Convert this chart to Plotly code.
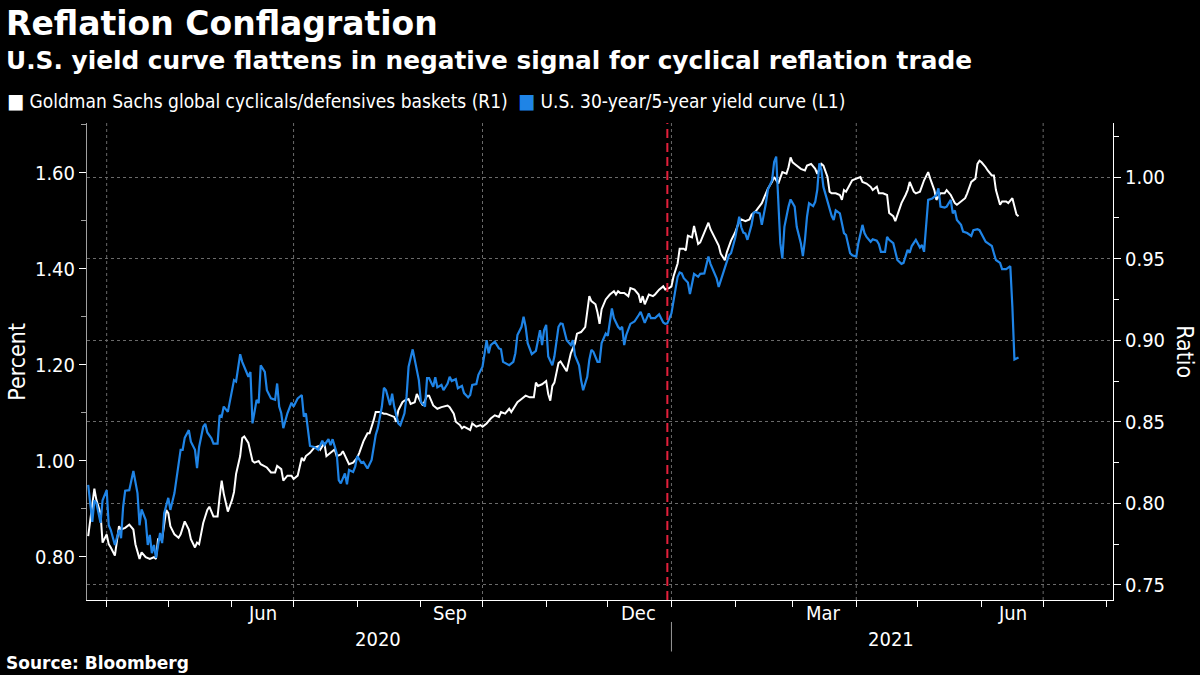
import plotly.graph_objects as go

# ---------------- text ----------------
title_text = "Reflation Conflagration"
subtitle_text = "U.S. yield curve flattens in negative signal for cyclical reflation trade"
gs_name = "Goldman Sachs global cyclicals/defensives baskets (R1)"
curve_name = "U.S. 30-year/5-year yield curve (L1)"
source_text = "Source: Bloomberg"
left_title = "Percent"
right_title = "Ratio"

# ---------------- data ----------------
# U.S. 30-year/5-year yield curve, percent (left axis)
curve_series = [
    ("2020-03-23", 0.950), ("2020-03-25", 0.873), ("2020-03-26", 0.918), ("2020-03-27", 0.912),
    ("2020-03-29", 0.871), ("2020-03-30", 0.918), ("2020-04-01", 0.939), ("2020-04-02", 0.866),
    ("2020-04-03", 0.856), ("2020-04-05", 0.825), ("2020-04-07", 0.856), ("2020-04-08", 0.839),
    ("2020-04-09", 0.904), ("2020-04-10", 0.938), ("2020-04-12", 0.939), ("2020-04-13", 0.960),
    ("2020-04-14", 0.979), ("2020-04-16", 0.933), ("2020-04-17", 0.866), ("2020-04-18", 0.899),
    ("2020-04-20", 0.877), ("2020-04-21", 0.825), ("2020-04-22", 0.846), ("2020-04-23", 0.808),
    ("2020-04-24", 0.825), ("2020-04-25", 0.798), ("2020-04-27", 0.850), ("2020-04-28", 0.829),
    ("2020-04-29", 0.891), ("2020-05-01", 0.923), ("2020-05-02", 0.898), ("2020-05-04", 0.933),
    ("2020-05-06", 0.995), ("2020-05-07", 1.023), ("2020-05-08", 1.023), ("2020-05-09", 1.048),
    ("2020-05-11", 1.064), ("2020-05-12", 1.040), ("2020-05-14", 1.023), ("2020-05-15", 0.985),
    ("2020-05-16", 1.029), ("2020-05-18", 1.071), ("2020-05-19", 1.077), ("2020-05-20", 1.059),
    ("2020-05-22", 1.047), ("2020-05-23", 1.036), ("2020-05-25", 1.036), ("2020-05-26", 1.095),
    ("2020-05-27", 1.092), ("2020-05-28", 1.113), ("2020-05-30", 1.102), ("2020-06-01", 1.147),
    ("2020-06-02", 1.168), ("2020-06-03", 1.165), ("2020-06-05", 1.222), ("2020-06-06", 1.206),
    ("2020-06-07", 1.196), ("2020-06-09", 1.175), ("2020-06-10", 1.185), ("2020-06-11", 1.078),
    ("2020-06-13", 1.127), ("2020-06-14", 1.120), ("2020-06-15", 1.199), ("2020-06-17", 1.185),
    ("2020-06-18", 1.147), ("2020-06-20", 1.130), ("2020-06-22", 1.127), ("2020-06-23", 1.161),
    ("2020-06-24", 1.113), ("2020-06-25", 1.099), ("2020-06-26", 1.068), ("2020-06-28", 1.099),
    ("2020-06-30", 1.121), ("2020-07-01", 1.113), ("2020-07-03", 1.130), ("2020-07-05", 1.137),
    ("2020-07-06", 1.092), ("2020-07-07", 1.099), ("2020-07-09", 1.031), ("2020-07-11", 1.029),
    ("2020-07-13", 1.023), ("2020-07-15", 1.042), ("2020-07-16", 1.033), ("2020-07-18", 1.045),
    ("2020-07-19", 1.033), ("2020-07-20", 1.045), ("2020-07-22", 1.016), ("2020-07-23", 0.960),
    ("2020-07-24", 0.953), ("2020-07-26", 0.974), ("2020-07-27", 0.951), ("2020-07-28", 0.981),
    ("2020-07-30", 0.977), ("2020-07-31", 0.988), ("2020-08-01", 1.010), ("2020-08-03", 0.996),
    ("2020-08-04", 0.998), ("2020-08-06", 0.984), ("2020-08-08", 1.002), ("2020-08-09", 1.029),
    ("2020-08-10", 1.054), ("2020-08-11", 1.068), ("2020-08-13", 1.113), ("2020-08-14", 1.152),
    ("2020-08-15", 1.147), ("2020-08-17", 1.116), ("2020-08-18", 1.140), ("2020-08-19", 1.113),
    ("2020-08-21", 1.078), ("2020-08-22", 1.074), ("2020-08-24", 1.099), ("2020-08-25", 1.133),
    ("2020-08-26", 1.196), ("2020-08-28", 1.232), ("2020-08-29", 1.210), ("2020-08-31", 1.168),
    ("2020-09-01", 1.123), ("2020-09-03", 1.113), ("2020-09-04", 1.172), ("2020-09-05", 1.172),
    ("2020-09-07", 1.154), ("2020-09-08", 1.174), ("2020-09-09", 1.153), ("2020-09-11", 1.158),
    ("2020-09-12", 1.147), ("2020-09-14", 1.161), ("2020-09-15", 1.175), ("2020-09-16", 1.166),
    ("2020-09-18", 1.170), ("2020-09-19", 1.151), ("2020-09-21", 1.156), ("2020-09-22", 1.141),
    ("2020-09-24", 1.132), ("2020-09-25", 1.137), ("2020-09-26", 1.158), ("2020-09-28", 1.160),
    ("2020-09-29", 1.179), ("2020-10-01", 1.196), ("2020-10-03", 1.251), ("2020-10-04", 1.224),
    ("2020-10-05", 1.241), ("2020-10-07", 1.248), ("2020-10-09", 1.234), ("2020-10-10", 1.232),
    ("2020-10-11", 1.206), ("2020-10-13", 1.201), ("2020-10-14", 1.199), ("2020-10-16", 1.206),
    ("2020-10-17", 1.224), ("2020-10-18", 1.262), ("2020-10-20", 1.279), ("2020-10-21", 1.300),
    ("2020-10-22", 1.279), ("2020-10-23", 1.245), ("2020-10-25", 1.222), ("2020-10-27", 1.229),
    ("2020-10-29", 1.272), ("2020-10-30", 1.241), ("2020-10-31", 1.272), ("2020-11-01", 1.283),
    ("2020-11-02", 1.217), ("2020-11-04", 1.199), ("2020-11-05", 1.217), ("2020-11-07", 1.279),
    ("2020-11-08", 1.286), ("2020-11-09", 1.285), ("2020-11-11", 1.251), ("2020-11-13", 1.241),
    ("2020-11-14", 1.251), ("2020-11-15", 1.220), ("2020-11-17", 1.199), ("2020-11-18", 1.168),
    ("2020-11-19", 1.147), ("2020-11-21", 1.175), ("2020-11-22", 1.210), ("2020-11-23", 1.231),
    ("2020-11-24", 1.227), ("2020-11-26", 1.206), ("2020-11-27", 1.206), ("2020-11-28", 1.245),
    ("2020-11-30", 1.265), ("2020-12-01", 1.260), ("2020-12-02", 1.286), ("2020-12-03", 1.317),
    ("2020-12-04", 1.297), ("2020-12-06", 1.279), ("2020-12-07", 1.274), ("2020-12-08", 1.279),
    ("2020-12-09", 1.241), ("2020-12-10", 1.262), ("2020-12-12", 1.285), ("2020-12-14", 1.290),
    ("2020-12-16", 1.303), ("2020-12-17", 1.310), ("2020-12-19", 1.287), ("2020-12-21", 1.307),
    ("2020-12-22", 1.297), ("2020-12-24", 1.297), ("2020-12-26", 1.305), ("2020-12-28", 1.288),
    ("2020-12-29", 1.285), ("2020-12-30", 1.286), ("2021-01-01", 1.307), ("2021-01-02", 1.335),
    ("2021-01-04", 1.383), ("2021-01-05", 1.392), ("2021-01-06", 1.390), ("2021-01-07", 1.380),
    ("2021-01-09", 1.371), ("2021-01-10", 1.347), ("2021-01-12", 1.389), ("2021-01-14", 1.383),
    ("2021-01-15", 1.389), ("2021-01-17", 1.390), ("2021-01-19", 1.425), ("2021-01-20", 1.410),
    ("2021-01-22", 1.387), ("2021-01-23", 1.380), ("2021-01-24", 1.362), ("2021-01-25", 1.376),
    ("2021-01-27", 1.404), ("2021-01-29", 1.428), ("2021-01-30", 1.432), ("2021-02-01", 1.463),
    ("2021-02-03", 1.508), ("2021-02-04", 1.486), ("2021-02-05", 1.475), ("2021-02-06", 1.473),
    ("2021-02-07", 1.460), ("2021-02-09", 1.491), ("2021-02-10", 1.516), ("2021-02-11", 1.518),
    ("2021-02-13", 1.515), ("2021-02-14", 1.491), ("2021-02-16", 1.536), ("2021-02-17", 1.565),
    ("2021-02-19", 1.584), ("2021-02-20", 1.622), ("2021-02-21", 1.633), ("2021-02-22", 1.543),
    ("2021-02-23", 1.453), ("2021-02-24", 1.421), ("2021-02-25", 1.487), ("2021-02-27", 1.529),
    ("2021-02-28", 1.544), ("2021-03-02", 1.529), ("2021-03-03", 1.487), ("2021-03-05", 1.453),
    ("2021-03-06", 1.426), ("2021-03-07", 1.460), ("2021-03-08", 1.508), ("2021-03-09", 1.536),
    ("2021-03-11", 1.530), ("2021-03-12", 1.539), ("2021-03-13", 1.564), ("2021-03-14", 1.619),
    ("2021-03-15", 1.605), ("2021-03-16", 1.570), ("2021-03-18", 1.539), ("2021-03-20", 1.510),
    ("2021-03-21", 1.501), ("2021-03-22", 1.521), ("2021-03-24", 1.515), ("2021-03-26", 1.474),
    ("2021-03-27", 1.470), ("2021-03-29", 1.432), ("2021-03-30", 1.428), ("2021-04-01", 1.425),
    ("2021-04-02", 1.453), ("2021-04-04", 1.491), ("2021-04-05", 1.474), ("2021-04-06", 1.466),
    ("2021-04-08", 1.456), ("2021-04-09", 1.461), ("2021-04-11", 1.458), ("2021-04-12", 1.451),
    ("2021-04-13", 1.435), ("2021-04-15", 1.435), ("2021-04-16", 1.466), ("2021-04-17", 1.460),
    ("2021-04-19", 1.453), ("2021-04-20", 1.432), ("2021-04-21", 1.418), ("2021-04-23", 1.410),
    ("2021-04-24", 1.412), ("2021-04-26", 1.439), ("2021-04-27", 1.433), ("2021-04-28", 1.447),
    ("2021-04-30", 1.460), ("2021-05-02", 1.444), ("2021-05-03", 1.449), ("2021-05-04", 1.435),
    ("2021-05-05", 1.494), ("2021-05-06", 1.543), ("2021-05-08", 1.546), ("2021-05-10", 1.553),
    ("2021-05-11", 1.567), ("2021-05-12", 1.529), ("2021-05-14", 1.527), ("2021-05-15", 1.529),
    ("2021-05-17", 1.543), ("2021-05-18", 1.515), ("2021-05-19", 1.521), ("2021-05-20", 1.501),
    ("2021-05-22", 1.491), ("2021-05-23", 1.477), ("2021-05-25", 1.474), ("2021-05-27", 1.468),
    ("2021-05-28", 1.480), ("2021-05-30", 1.482), ("2021-05-31", 1.480), ("2021-06-01", 1.472),
    ("2021-06-03", 1.456), ("2021-06-04", 1.453), ("2021-06-06", 1.447), ("2021-06-07", 1.432),
    ("2021-06-08", 1.418), ("2021-06-10", 1.412), ("2021-06-11", 1.399), ("2021-06-13", 1.399),
    ("2021-06-15", 1.405), ("2021-06-16", 1.321), ("2021-06-17", 1.211), ("2021-06-19", 1.215),
]

# Goldman Sachs global cyclicals/defensives baskets, ratio (right axis)
gs_series = [
    ("2020-03-23", 0.780), ("2020-03-25", 0.802), ("2020-03-26", 0.809), ("2020-03-27", 0.802),
    ("2020-03-29", 0.794), ("2020-03-30", 0.776), ("2020-04-01", 0.781), ("2020-04-02", 0.775),
    ("2020-04-03", 0.773), ("2020-04-05", 0.768), ("2020-04-07", 0.786), ("2020-04-08", 0.784),
    ("2020-04-10", 0.785), ("2020-04-12", 0.787), ("2020-04-14", 0.784), ("2020-04-15", 0.775),
    ("2020-04-17", 0.766), ("2020-04-18", 0.770), ("2020-04-20", 0.767), ("2020-04-22", 0.766),
    ("2020-04-24", 0.767), ("2020-04-25", 0.766), ("2020-04-26", 0.778), ("2020-04-28", 0.778),
    ("2020-04-30", 0.796), ("2020-05-01", 0.794), ("2020-05-02", 0.786), ("2020-05-04", 0.781),
    ("2020-05-06", 0.779), ("2020-05-07", 0.781), ("2020-05-09", 0.789), ("2020-05-11", 0.784),
    ("2020-05-12", 0.778), ("2020-05-14", 0.773), ("2020-05-15", 0.776), ("2020-05-16", 0.775),
    ("2020-05-18", 0.788), ("2020-05-20", 0.796), ("2020-05-21", 0.798), ("2020-05-23", 0.792),
    ("2020-05-25", 0.792), ("2020-05-26", 0.804), ("2020-05-27", 0.814), ("2020-05-28", 0.806),
    ("2020-05-30", 0.795), ("2020-06-01", 0.802), ("2020-06-02", 0.807), ("2020-06-03", 0.818),
    ("2020-06-05", 0.829), ("2020-06-06", 0.840), ("2020-06-07", 0.841), ("2020-06-09", 0.837),
    ("2020-06-11", 0.826), ("2020-06-12", 0.825), ("2020-06-14", 0.826), ("2020-06-15", 0.824),
    ("2020-06-18", 0.822), ("2020-06-20", 0.819), ("2020-06-22", 0.819), ("2020-06-23", 0.823),
    ("2020-06-25", 0.821), ("2020-06-26", 0.814), ("2020-06-28", 0.817), ("2020-06-30", 0.817),
    ("2020-07-01", 0.815), ("2020-07-03", 0.817), ("2020-07-05", 0.828), ("2020-07-06", 0.826),
    ("2020-07-07", 0.829), ("2020-07-09", 0.831), ("2020-07-11", 0.834), ("2020-07-13", 0.835),
    ("2020-07-14", 0.833), ("2020-07-16", 0.837), ("2020-07-17", 0.829), ("2020-07-19", 0.831),
    ("2020-07-21", 0.833), ("2020-07-22", 0.829), ("2020-07-24", 0.830), ("2020-07-25", 0.832),
    ("2020-07-27", 0.826), ("2020-07-28", 0.824), ("2020-07-30", 0.825), ("2020-08-01", 0.828),
    ("2020-08-02", 0.831), ("2020-08-04", 0.838), ("2020-08-06", 0.843), ("2020-08-07", 0.843),
    ("2020-08-09", 0.851), ("2020-08-10", 0.856), ("2020-08-12", 0.856), ("2020-08-14", 0.855),
    ("2020-08-15", 0.855), ("2020-08-17", 0.854), ("2020-08-19", 0.853), ("2020-08-20", 0.850),
    ("2020-08-21", 0.857), ("2020-08-23", 0.862), ("2020-08-24", 0.863), ("2020-08-26", 0.864),
    ("2020-08-27", 0.861), ("2020-08-29", 0.862), ("2020-08-30", 0.867), ("2020-09-01", 0.862),
    ("2020-09-02", 0.860), ("2020-09-04", 0.866), ("2020-09-05", 0.866), ("2020-09-07", 0.860),
    ("2020-09-09", 0.858), ("2020-09-11", 0.859), ("2020-09-14", 0.860), ("2020-09-15", 0.859),
    ("2020-09-17", 0.855), ("2020-09-18", 0.850), ("2020-09-20", 0.848), ("2020-09-21", 0.846),
    ("2020-09-22", 0.847), ("2020-09-25", 0.845), ("2020-09-26", 0.849), ("2020-09-28", 0.847),
    ("2020-09-30", 0.848), ("2020-10-01", 0.847), ("2020-10-03", 0.849), ("2020-10-05", 0.852),
    ("2020-10-07", 0.854), ("2020-10-09", 0.853), ("2020-10-10", 0.856), ("2020-10-12", 0.855),
    ("2020-10-14", 0.858), ("2020-10-15", 0.856), ("2020-10-17", 0.860), ("2020-10-18", 0.862),
    ("2020-10-20", 0.864), ("2020-10-22", 0.866), ("2020-10-24", 0.865), ("2020-10-26", 0.865),
    ("2020-10-27", 0.874), ("2020-10-28", 0.872), ("2020-10-30", 0.873), ("2020-11-01", 0.875),
    ("2020-11-02", 0.867), ("2020-11-03", 0.863), ("2020-11-04", 0.872), ("2020-11-05", 0.874),
    ("2020-11-07", 0.886), ("2020-11-08", 0.887), ("2020-11-10", 0.883), ("2020-11-11", 0.881),
    ("2020-11-13", 0.892), ("2020-11-15", 0.898), ("2020-11-16", 0.904), ("2020-11-18", 0.905),
    ("2020-11-20", 0.908), ("2020-11-21", 0.919), ("2020-11-22", 0.927), ("2020-11-23", 0.924),
    ("2020-11-25", 0.922), ("2020-11-26", 0.917), ("2020-11-27", 0.910), ("2020-11-28", 0.919),
    ("2020-11-30", 0.925), ("2020-12-02", 0.928), ("2020-12-04", 0.930), ("2020-12-05", 0.928),
    ("2020-12-06", 0.930), ("2020-12-07", 0.929), ("2020-12-09", 0.929), ("2020-12-11", 0.927),
    ("2020-12-12", 0.932), ("2020-12-14", 0.931), ("2020-12-16", 0.928), ("2020-12-17", 0.923),
    ("2020-12-18", 0.927), ("2020-12-19", 0.922), ("2020-12-21", 0.928), ("2020-12-23", 0.927),
    ("2020-12-24", 0.928), ("2020-12-26", 0.931), ("2020-12-28", 0.933), ("2020-12-29", 0.931),
    ("2020-12-31", 0.932), ("2021-01-01", 0.933), ("2021-01-02", 0.939), ("2021-01-04", 0.947),
    ("2021-01-05", 0.956), ("2021-01-07", 0.956), ("2021-01-08", 0.955), ("2021-01-09", 0.964),
    ("2021-01-11", 0.963), ("2021-01-12", 0.970), ("2021-01-14", 0.959), ("2021-01-15", 0.960),
    ("2021-01-17", 0.966), ("2021-01-19", 0.972), ("2021-01-20", 0.968), ("2021-01-22", 0.963),
    ("2021-01-24", 0.958), ("2021-01-25", 0.953), ("2021-01-27", 0.949), ("2021-01-28", 0.954),
    ("2021-01-30", 0.961), ("2021-02-01", 0.966), ("2021-02-03", 0.973), ("2021-02-04", 0.974),
    ("2021-02-06", 0.973), ("2021-02-08", 0.974), ("2021-02-09", 0.977), ("2021-02-11", 0.979),
    ("2021-02-13", 0.982), ("2021-02-14", 0.984), ("2021-02-16", 0.990), ("2021-02-17", 0.993),
    ("2021-02-19", 0.997), ("2021-02-20", 1.000), ("2021-02-22", 0.996), ("2021-02-23", 1.000),
    ("2021-02-24", 1.003), ("2021-02-26", 1.002), ("2021-02-27", 1.006), ("2021-02-28", 1.012),
    ("2021-03-01", 1.009), ("2021-03-02", 1.008), ("2021-03-04", 1.006), ("2021-03-05", 1.005),
    ("2021-03-07", 1.004), ("2021-03-08", 1.007), ("2021-03-10", 1.008), ("2021-03-12", 1.005),
    ("2021-03-13", 1.002), ("2021-03-15", 1.008), ("2021-03-16", 1.007), ("2021-03-18", 1.000),
    ("2021-03-19", 0.991), ("2021-03-20", 0.990), ("2021-03-22", 0.990), ("2021-03-24", 0.989),
    ("2021-03-25", 0.986), ("2021-03-26", 0.992), ("2021-03-27", 0.991), ("2021-03-29", 0.996),
    ("2021-03-30", 0.998), ("2021-04-01", 0.999), ("2021-04-03", 1.000), ("2021-04-04", 0.997),
    ("2021-04-06", 0.996), ("2021-04-08", 0.994), ("2021-04-09", 0.992), ("2021-04-11", 0.994),
    ("2021-04-12", 0.990), ("2021-04-14", 0.990), ("2021-04-16", 0.989), ("2021-04-17", 0.978),
    ("2021-04-19", 0.976), ("2021-04-20", 0.973), ("2021-04-21", 0.977), ("2021-04-23", 0.984),
    ("2021-04-25", 0.989), ("2021-04-26", 0.992), ("2021-04-27", 0.997), ("2021-04-29", 0.991),
    ("2021-04-30", 0.990), ("2021-05-02", 0.991), ("2021-05-04", 0.998), ("2021-05-06", 1.003),
    ("2021-05-07", 0.999), ("2021-05-09", 0.992), ("2021-05-10", 0.986), ("2021-05-12", 0.990),
    ("2021-05-14", 0.990), ("2021-05-15", 0.992), ("2021-05-17", 0.989), ("2021-05-19", 0.984),
    ("2021-05-20", 0.983), ("2021-05-22", 0.985), ("2021-05-24", 0.987), ("2021-05-25", 0.990),
    ("2021-05-27", 0.997), ("2021-05-29", 0.999), ("2021-05-30", 1.008), ("2021-05-31", 1.010),
    ("2021-06-01", 1.009), ("2021-06-03", 1.006), ("2021-06-04", 1.004), ("2021-06-06", 1.001),
    ("2021-06-07", 1.001), ("2021-06-08", 0.992), ("2021-06-10", 0.983), ("2021-06-11", 0.985),
    ("2021-06-13", 0.985), ("2021-06-14", 0.984), ("2021-06-16", 0.987), ("2021-06-18", 0.977),
    ("2021-06-19", 0.976),
]

curve_dates = [d for d, _ in curve_series]
curve_values = [v for _, v in curve_series]
gs_dates = [d for d, _ in gs_series]
gs_values = [v for _, v in gs_series]

x_range = ["2020-03-22 10:00", "2021-08-04"]
month_starts = ["2020-04-01", "2020-05-01", "2020-06-01", "2020-07-01", "2020-08-01", "2020-09-01",
                "2020-10-01", "2020-11-01", "2020-12-01", "2021-01-01", "2021-02-01", "2021-03-01",
                "2021-04-01", "2021-05-01", "2021-06-01", "2021-07-01", "2021-08-01"]
quarter_starts = ["2020-04-01", "2020-07-01", "2020-10-01", "2021-01-01", "2021-04-01", "2021-07-01"]
month_label_dates = ["2020-06-16", "2020-09-15", "2020-12-16", "2021-03-16", "2021-06-16"]
month_labels = ["Jun", "Sep", "Dec", "Mar", "Jun"]
year_label_dates = ["2020-08-11", "2021-04-18"]
year_labels = ["2020", "2021"]
year_break = "2021-01-01"
event_date = "2020-12-30"

left_range = [0.7105, 1.703]
right_range = [0.7408, 1.0331]

# ---------------- style ----------------
BLUE = "#1f84e6"
WHITE = "#ffffff"
RED = "#e3203b"
GRID = "#6a6a6a"
REG = "DejaVu Sans Condensed, DejaVu Sans, sans-serif"
BOLD = "DejaVu Sans, sans-serif"

fig = go.Figure()
fig.add_trace(go.Scatter(x=gs_dates, y=gs_values, mode="lines", name=gs_name,
                         line=dict(color=WHITE, width=2), yaxis="y", hoverinfo="x+y"))
fig.add_trace(go.Scatter(x=curve_dates, y=curve_values, mode="lines", name=curve_name,
                         line=dict(color=BLUE, width=2.2), yaxis="y2", hoverinfo="x+y"))

shapes = []
for q in quarter_starts:
    shapes.append(dict(type="line", xref="x", yref="paper", x0=q, x1=q, y0=0, y1=1,
                       line=dict(color=GRID, width=1, dash="dot"), layer="below"))
shapes.append(dict(type="line", xref="x", yref="paper", x0=event_date, x1=event_date, y0=0, y1=1,
                   line=dict(color=RED, width=2, dash="9px,5px")))
shapes.append(dict(type="line", xref="x", yref="paper", x0=year_break, x1=year_break,
                   y0=-0.046, y1=-0.108, line=dict(color="#9a9a9a", width=1)))

ann = []
ann.append(dict(text="<b>" + title_text + "</b>", xref="paper", yref="paper", x=-0.081, y=1.2096,
                xanchor="left", yanchor="middle", showarrow=False,
                font=dict(family=BOLD, size=33, color=WHITE)))
ann.append(dict(text="<b>" + subtitle_text + "</b>", xref="paper", yref="paper", x=-0.081, y=1.130,
                xanchor="left", yanchor="middle", showarrow=False,
                font=dict(family=BOLD, size=24.8, color=WHITE)))
ann.append(dict(text="<span style='color:%s;font-size:20px'>■</span> %s" % (WHITE, gs_name),
                xref="paper", yref="paper",
                x=-0.080, y=1.046, xanchor="left", yanchor="middle", showarrow=False,
                font=dict(family=REG, size=19, color=WHITE)))
ann.append(dict(text="<span style='color:%s;font-size:20px'>■</span> %s" % (BLUE, curve_name),
                xref="paper", yref="paper",
                x=0.418, y=1.046, xanchor="left", yanchor="middle", showarrow=False,
                font=dict(family=REG, size=19, color=WHITE)))
ann.append(dict(text="<b>" + source_text + "</b>", xref="paper", yref="paper", x=-0.081, y=-0.132,
                xanchor="left", yanchor="middle", showarrow=False,
                font=dict(family=BOLD, size=17, color=WHITE)))
ann.append(dict(text=left_title, xref="paper", yref="paper", x=-0.069, y=0.50, textangle=-90,
                xanchor="center", yanchor="middle", showarrow=False,
                font=dict(family=REG, size=23, color=WHITE)))
ann.append(dict(text=right_title, xref="paper", yref="paper", x=1.070, y=0.52, textangle=90,
                xanchor="center", yanchor="middle", showarrow=False,
                font=dict(family=REG, size=23, color=WHITE)))
for d, t in zip(month_label_dates, month_labels):
    ann.append(dict(text=t, xref="x", yref="paper", x=d, y=-0.028, xanchor="center", yanchor="middle",
                    showarrow=False, font=dict(family=REG, size=20, color=WHITE)))
for d, t in zip(year_label_dates, year_labels):
    ann.append(dict(text=t, xref="x", yref="paper", x=d, y=-0.082, xanchor="center", yanchor="middle",
                    showarrow=False, font=dict(family=REG, size=20, color=WHITE)))

fig.update_layout(
    width=1200, height=675,
    paper_bgcolor="#000000", plot_bgcolor="#000000",
    margin=dict(l=87, r=87, t=123, b=75),
    showlegend=False,
    font=dict(family=REG, size=20, color=WHITE),
    shapes=shapes, annotations=ann,
    xaxis=dict(type="date", range=x_range, tickmode="array", tickvals=month_starts,
               ticktext=[""] * len(month_starts), ticks="outside", ticklen=6, tickcolor=WHITE,
               showgrid=False, zeroline=False, showline=True, linecolor=WHITE, linewidth=1),
    yaxis=dict(side="right", range=right_range, tick0=0.75, dtick=0.05, tickformat=".2f",
               showgrid=True, gridcolor=GRID, griddash="dot", gridwidth=1, zeroline=False,
               showline=True, linecolor=WHITE, linewidth=1, ticks="outside", ticklen=7,
               tickcolor=WHITE, tickfont=dict(family=REG, size=20, color=WHITE),
               minor=dict(tick0=0.75, dtick=0.025, ticks="outside", ticklen=5, tickcolor=WHITE,
                          showgrid=False)),
    yaxis2=dict(side="left", overlaying="y", range=left_range, tick0=0.8, dtick=0.2, tickformat=".2f",
                showgrid=False, zeroline=False, showline=True, linecolor="#a0a0a0", linewidth=1,
                ticks="outside", ticklen=7, tickcolor=WHITE,
                tickfont=dict(family=REG, size=20, color=WHITE),
                minor=dict(tick0=0.7, dtick=0.1, ticks="outside", ticklen=5, tickcolor="#a0a0a0",
                           showgrid=False)),
)

fig.write_html("out.html", config={"displayModeBar": False},
               post_script="document.body.style.margin='0';")
